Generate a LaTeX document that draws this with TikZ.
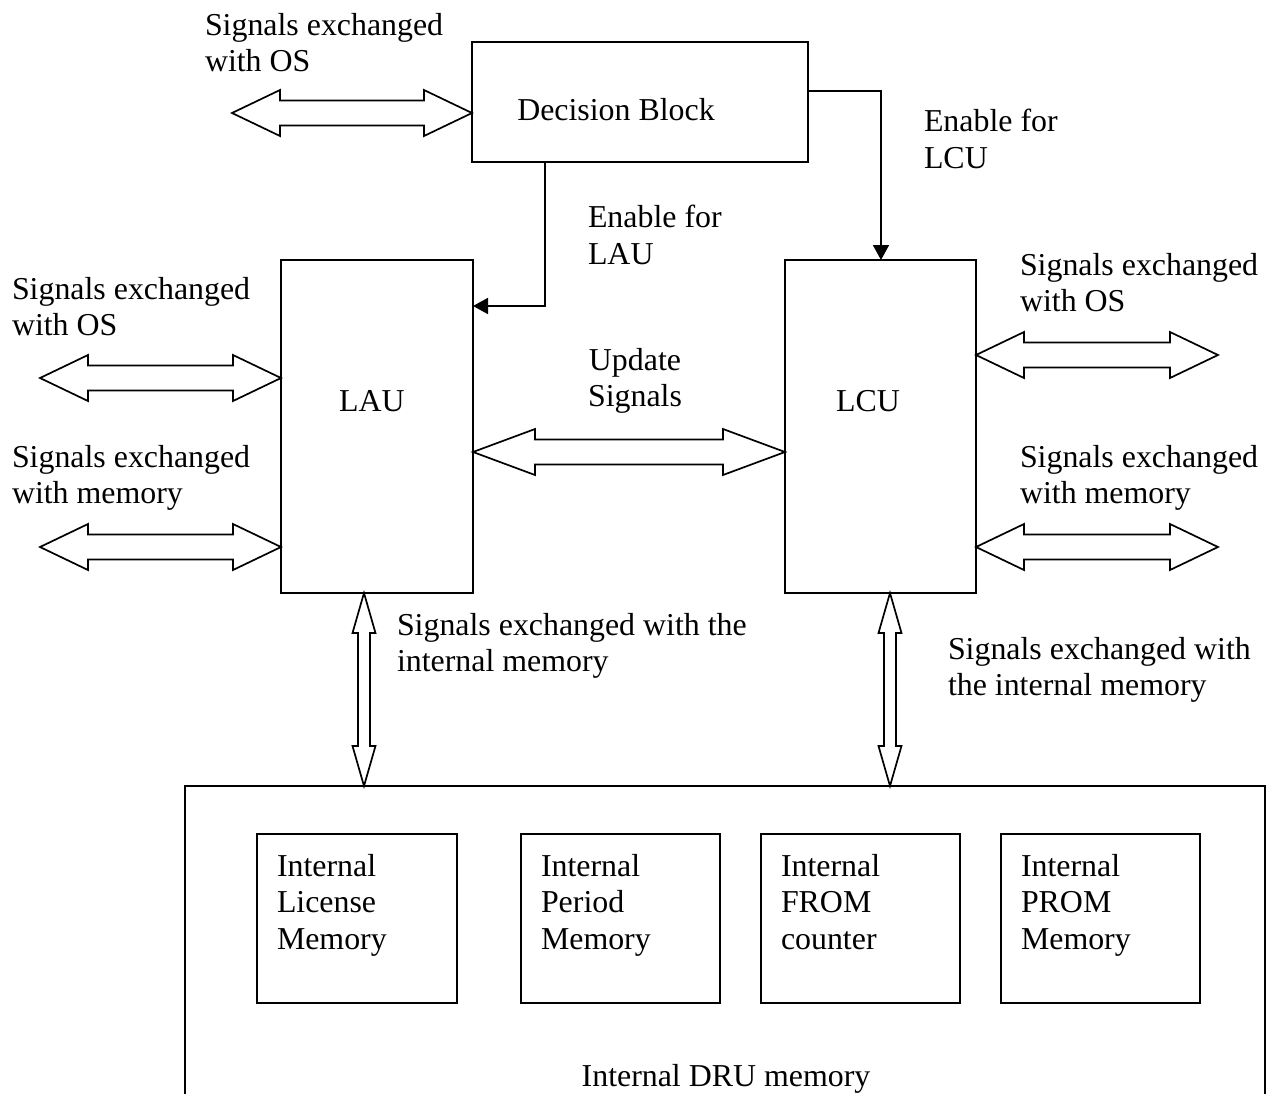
\documentclass[tikz,border=0pt]{standalone}
\usepackage{fontspec}
\setmainfont{Liberation Serif}
\usetikzlibrary{calc,arrows.meta}

% horizontal outline double arrow between two points: #1 head length, #2 left end, #3 right end
\newcommand\hblock[3]{%
  \draw[blk] let \p1=#2, \p2=#3 in
    (\x1,\y1) -- (\x1+#1,\y1+23bp) -- (\x1+#1,\y1+12.5bp) -- (\x2-#1,\y1+12.5bp)
    -- (\x2-#1,\y1+23bp) -- (\x2,\y1) -- (\x2-#1,\y1-23bp) -- (\x2-#1,\y1-12.5bp)
    -- (\x1+#1,\y1-12.5bp) -- (\x1+#1,\y1-23bp) -- cycle;}
% vertical outline double arrow: #1 top end, #2 bottom end
\newcommand\vblock[2]{%
  \draw[blk] let \p1=#1, \p2=#2 in
    (\x1,\y1) -- (\x1+11.5bp,\y1-40bp) -- (\x1+6bp,\y1-40bp) -- (\x1+6bp,\y2+40bp)
    -- (\x1+11.5bp,\y2+40bp) -- (\x1,\y2) -- (\x1-11.5bp,\y2+40bp) -- (\x1-6bp,\y2+40bp)
    -- (\x1-6bp,\y1-40bp) -- (\x1-11.5bp,\y1-40bp) -- cycle;}

\begin{document}
\begin{tikzpicture}[x=1bp,y=-1bp,
  every node/.style={font=\fontsize{32}{37}\selectfont, inner sep=0pt, outer sep=0pt},
  box/.style={draw, line width=1.7bp, rectangle, anchor=north west},
  txt/.style={align=left, anchor=north west},
  blk/.style={draw, line width=1.7bp, line join=miter, fill=white},
  conn/.style={line width=1.7bp, -{Triangle[length=15bp,width=16bp]}}]

\useasboundingbox (0,0) rectangle (1266,1094);
\clip (0,0) rectangle (1266,1094);

% main blocks
\node[box, minimum width=336bp, minimum height=120bp] (dec) at (472,42) {};
\node[box, minimum width=192bp, minimum height=333bp] (lau) at (281,260) {};
\node[box, minimum width=191bp, minimum height=333bp] (lcu) at (785,260) {};
\node[box, minimum width=1080bp, minimum height=400bp] (dru) at (185,786) {};

% internal memories
\node[box, minimum width=200bp, minimum height=169bp] (m1) at (257,834) {};
\node[box, minimum width=199bp, minimum height=169bp] (m2) at (521,834) {};
\node[box, minimum width=199bp, minimum height=169bp] (m3) at (761,834) {};
\node[box, minimum width=199bp, minimum height=169bp] (m4) at (1001,834) {};

% block labels
\node (tdec) at (616,110) {Decision Block};
\node (tlau) at (372,401) {LAU};
\node (tlcu) at (868,401) {LCU};
\node[txt] (t1) at (277,854) {Internal\\License\\Memory};
\node[txt] (t2) at (541,854) {Internal\\Period\\Memory};
\node[txt] (t3) at (781,854) {Internal\\FROM\\counter};
\node[txt] (t4) at (1021,854) {Internal\\PROM\\Memory};
\node[anchor=north] (tdru) at (726,1064) {Internal DRU memory};

% signal labels
\node[txt] (s1) at (205,13) {Signals exchanged\\with OS};
\node[txt] (s2) at (924,109) {Enable for\\LCU};
\node[txt] (s3) at (588,205) {Enable for\\LAU};
\node[txt] (s4) at (12,277) {Signals exchanged\\with OS};
\node[txt] (s5) at (12,445) {Signals exchanged\\with memory};
\node[align=center, anchor=north] (s6) at (635,348) {Update\\Signals};
\node[txt] (s7) at (1020,253) {Signals exchanged\\with OS};
\node[txt] (s8) at (1020,445) {Signals exchanged\\with memory};
\node[txt] (s9) at (397,613) {Signals exchanged with the\\internal memory};
\node[txt] (s10) at (948,637) {Signals exchanged with\\the internal memory};

% free ends of the outer signal arrows
\coordinate (osA) at (232,113);
\coordinate (osB) at (40,378);
\coordinate (memB) at (40,547);
\coordinate (osC) at (1218,355);
\coordinate (memC) at (1218,547);

% enable lines
\draw[conn] (dec.south -| 545,0) |- (lau.east |- 0,306);
\draw[conn] (dec.east |- 0,91) -| (lcu.north -| 881,0);

% signal exchange arrows
\hblock{48bp}{(osA)}{(dec.west |- osA)}
\hblock{48bp}{(osB)}{(lau.west |- osB)}
\hblock{48bp}{(memB)}{(lau.west |- memB)}
\hblock{62bp}{(lau.east |- 0,452)}{(lcu.west |- 0,452)}
\hblock{48bp}{(lcu.east |- osC)}{(osC)}
\hblock{48bp}{(lcu.east |- memC)}{(memC)}
\vblock{(lau.south -| 364,0)}{(dru.north -| 364,0)}
\vblock{(lcu.south -| 890,0)}{(dru.north -| 890,0)}
\end{tikzpicture}
\end{document}
